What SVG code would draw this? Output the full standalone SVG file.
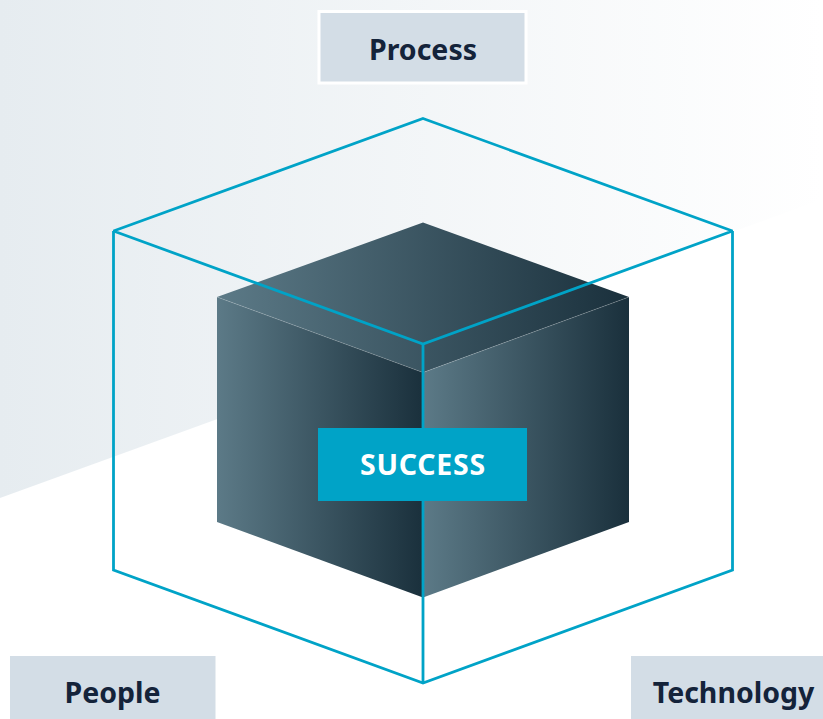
<svg xmlns="http://www.w3.org/2000/svg" width="823" height="719" viewBox="0 0 823 719">
<style>
.lbl{font-family:"Noto Sans","Open Sans",sans-serif;font-weight:700;font-size:28.500px;text-anchor:middle;fill:#14233a}
.box{fill:#d3dde6}
.edge{fill:none;stroke:#00a3c7;stroke-width:2.800;stroke-linejoin:miter;stroke-miterlimit:2}
.seam{fill:none;stroke:#ffffff;stroke-opacity:.25;stroke-width:.7}
</style>
<defs>
<linearGradient id="bg" x1="0" y1="0" x2="1" y2="0"><stop offset="0" stop-color="#e6ecf0"/><stop offset="1" stop-color="#ffffff"/></linearGradient>
<linearGradient id="face" x1="0" y1="0" x2="1" y2="0"><stop offset="0" stop-color="#5c7a87"/><stop offset="1" stop-color="#1a303c"/></linearGradient>
</defs>
<rect width="823" height="719" fill="#ffffff"/>
<polygon points="0,0 823,0 823,199 0,498" fill="url(#bg)"/>
<g id="cube">
<polygon points="423,222.500 629,297 423,372.500 217,297" fill="url(#face)"/>
<polygon points="217,297 423,372.500 423,597.500 217,522" fill="url(#face)"/>
<polygon points="423,372.500 629,297 629,522 423,597.500" fill="url(#face)"/>
<path class="seam" d="M217,297 423,372.500 629,297"/>
</g>
<g id="connectors">
<path class="edge" d="M423,118.500 732.500,231 423,344 113.500,231Z"/>
<path class="edge" d="M113.500,231V570L423,683 732.500,570V231"/>
<path class="edge" d="M423,344V683"/>
</g>
<g id="node-process">
<rect class="box" x="319" y="11.500" width="207" height="71.500" stroke="#ffffff" stroke-width="3"/>
<text class="lbl" x="423" y="59.500">Process</text>
</g>
<g id="node-success">
<rect x="318" y="428" width="209" height="73" fill="#00a3c7"/>
<text class="lbl" x="423" y="474.500" style="fill:#ffffff;letter-spacing:.8px">SUCCESS</text>
</g>
<g id="node-people">
<rect class="box" x="10" y="656" width="205.500" height="63"/>
<text class="lbl" x="112.500" y="702.500">People</text>
</g>
<g id="node-technology">
<rect class="box" x="631" y="656" width="192" height="63"/>
<text class="lbl" x="733.500" y="702.500">Technology</text>
</g>
</svg>
